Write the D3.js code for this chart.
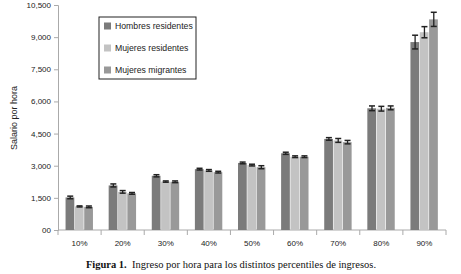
<!DOCTYPE html>
<html><head><meta charset="utf-8">
<script src="https://cdn.jsdelivr.net/npm/d3@7"></script>
<style>body{margin:0;background:#fff}svg{display:block}</style>
</head><body>
<script>
const categories = ["10%","20%","30%","40%","50%","60%","70%","80%","90%"];
const seriesNames = ["Hombres residentes","Mujeres residentes","Mujeres migrantes"];
const hombres = [1520,2080,2530,2840,3130,3580,4250,5680,8770];
const mujeresRes = [1100,1780,2260,2780,3030,3420,4180,5660,9230];
const mujeresMig = [1080,1710,2250,2700,2930,3420,4100,5700,9830];
const errHombres = [60,70,50,40,40,50,60,110,320];
const errMujeresRes = [25,60,30,40,40,40,90,110,260];
const errMujeresMig = [40,40,40,40,70,40,80,90,330];
const yTicks = [0,1500,3000,4500,6000,7500,9000,10500];
const yTickLabels = ["00","1,500","3,000","4,500","6,000","7,500","9,000","10,500"];
const colors = ["#7b7b7b","#c3c3c3","#999999"];

const W=461,H=274;
const svg=d3.select("body").append("svg").attr("width",W).attr("height",H);
const x0=d3.scaleBand().domain(categories).range([58,446]).paddingInner(0).paddingOuter(0);
const x1=d3.scaleBand().domain(seriesNames).range([0,28]).padding(0);
const y=d3.scaleLinear().domain([0,10500]).range([230,5]);

const series=[hombres,mujeresRes,mujeresMig];
const errs=[errHombres,errMujeresRes,errMujeresMig];

// Y axis
const yAx=svg.append("g").attr("transform","translate(58,0)")
  .call(d3.axisLeft(y).tickValues(yTicks).tickFormat((d,i)=>yTickLabels[i]).tickSize(4).tickPadding(3));
yAx.select(".domain").attr("stroke","#aaa");
yAx.selectAll(".tick line").attr("stroke","#aaa");
yAx.selectAll("text").attr("font-family","Liberation Sans, Arial, sans-serif").attr("font-size","8px").attr("fill","#222");

// X axis
const xAx=svg.append("g").attr("transform","translate(0,230)");
xAx.append("line").attr("x1",58).attr("x2",446).attr("y1",0).attr("y2",0).attr("stroke","#aaa");
const bounds=categories.map(c=>x0(c)).concat([x0(categories[categories.length-1])+x0.bandwidth()]);
xAx.selectAll("line.tk").data(bounds).join("line").attr("class","tk")
  .attr("x1",d=>d).attr("x2",d=>d).attr("y1",0).attr("y2",5).attr("stroke","#aaa");
xAx.selectAll("text").data(categories).join("text")
  .attr("x",d=>x0(d)+x0.bandwidth()/2).attr("y",16).attr("text-anchor","middle")
  .attr("font-family","Liberation Sans, Arial, sans-serif").attr("font-size","8px").attr("fill","#222").text(d=>d);

// Bars
const groups=svg.append("g").selectAll("g").data(categories).join("g")
  .attr("transform",d=>`translate(${x0(d)+x0.bandwidth()/2-14},0)`);
groups.each(function(c,ci){
  const g=d3.select(this);
  seriesNames.forEach((s,si)=>{
    const v=series[si][ci];
    g.append("rect").attr("x",x1(s)).attr("width",x1.bandwidth()-0.6)
      .attr("y",y(v)).attr("height",y(0)-y(v)).attr("fill",colors[si]);
  });
  seriesNames.forEach((s,si)=>{
    const v=series[si][ci], e=errs[si][ci];
    const cx=x1(s)+x1.bandwidth()/2;
    const yt=y(v+e), yb=y(v-e);
    g.append("line").attr("x1",cx).attr("x2",cx).attr("y1",yt).attr("y2",yb).attr("stroke","#222").attr("stroke-width",1.3);
    g.append("line").attr("x1",cx-3).attr("x2",cx+3).attr("y1",yt).attr("y2",yt).attr("stroke","#222").attr("stroke-width",1.5);
    g.append("line").attr("x1",cx-3).attr("x2",cx+3).attr("y1",yb).attr("y2",yb).attr("stroke","#222").attr("stroke-width",1.5);
  });
});

// Y title
svg.append("text").attr("transform","translate(17,118) rotate(-90)").attr("text-anchor","middle")
  .attr("font-family","Liberation Sans, Arial, sans-serif").attr("font-size","9px").attr("fill","#222").text("Salario por hora");

// Legend
const lg=svg.append("g");
lg.append("rect").attr("x",99).attr("y",17).attr("width",97).attr("height",62).attr("fill","#fff").attr("stroke","#222").attr("stroke-width",1);
seriesNames.forEach((s,i)=>{
  const yy=26+i*22;
  lg.append("rect").attr("x",104).attr("y",yy-3.5).attr("width",7).attr("height",7).attr("fill",colors[i]);
  lg.append("text").attr("x",115).attr("y",yy+3).attr("font-family","Liberation Sans, Arial, sans-serif")
    .attr("font-size","8.7px").attr("fill","#222").text(s);
});

// Caption
const cap=svg.append("text").attr("x",231).attr("y",268).attr("text-anchor","middle")
  .attr("font-family","Liberation Serif, DejaVu Serif, serif").attr("font-size","10.5px").attr("fill","#111");
cap.append("tspan").attr("font-weight","bold").text("Figura 1.");
cap.append("tspan").text("\u00a0 Ingreso por hora para los distintos percentiles de ingresos.");
</script>
</body></html>
